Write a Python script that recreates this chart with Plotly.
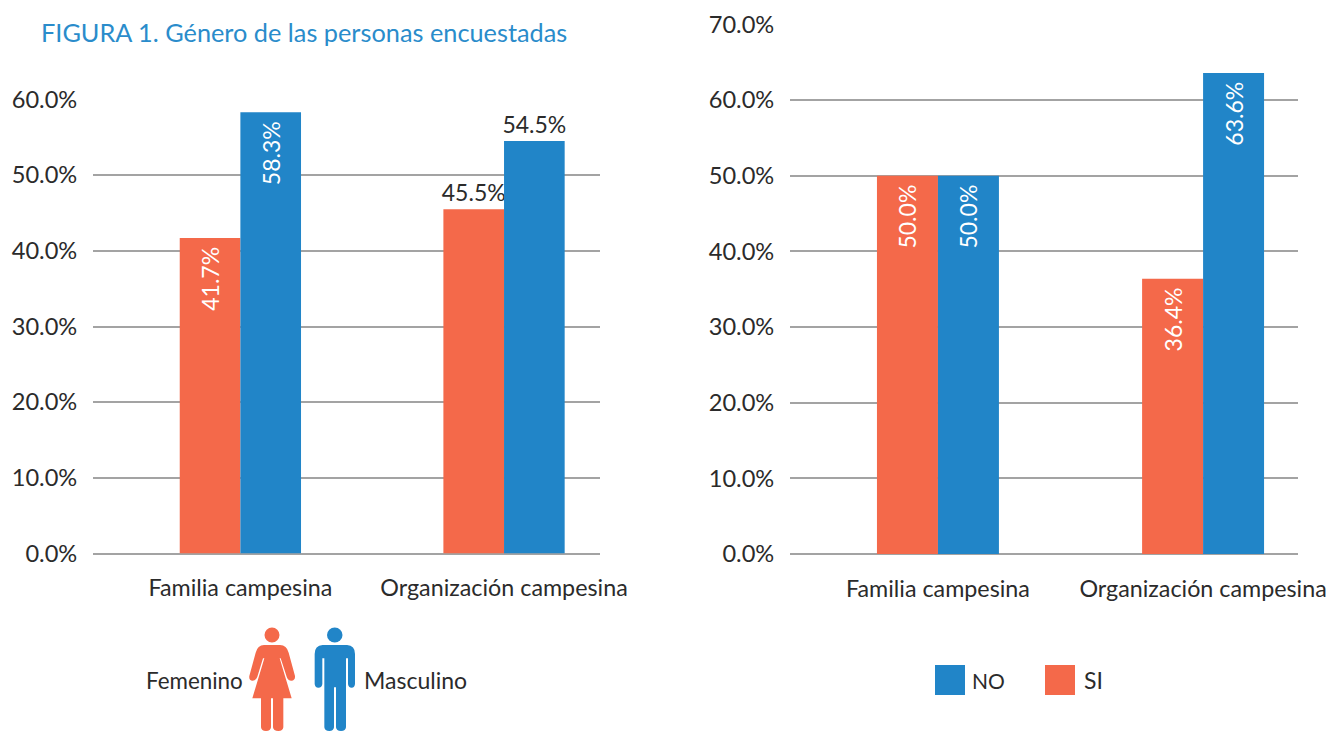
import plotly.graph_objects as go

W, H = 1328, 731
FONT = "Lato"
ORANGE = "#F4694A"
BLUE = "#2185C8"
INK = "#2B2B2B"
GRID = "#A3A3A3"

categories = ["Familia campesina", "Organización campesina"]
title_text = "FIGURA 1. Género de las personas encuestadas"

femenino = [41.7, 45.5]
masculino = [58.3, 54.5]
si = [50.0, 36.4]
no = [50.0, 63.6]

left_ticks = [0, 10, 20, 30, 40, 50, 60]
right_ticks = [0, 10, 20, 30, 40, 50, 60, 70]

left_label_pos = {"fem": ["inside", "outside"], "mas": ["inside", "outside"]}
right_label_pos = {"si": ["inside", "inside"], "no": ["inside", "inside"]}


def px(x):
    return x / W


def py(y):
    return 1 - y / H


def add_series(fig, values, name, color, positions, xaxis, yaxis):
    for cat, val, pos in zip(categories, values, positions):
        inside = pos == "inside"
        fig.add_trace(go.Bar(
            x=[cat], y=[val], name=name, offsetgroup=name, showlegend=False,
            marker=dict(color=color, line=dict(width=0)),
            texttemplate="%{y:.1f}%" + ("\u00a0" if inside else ""), textposition=pos,
            textangle=-90 if inside else 0,
            insidetextanchor="end", constraintext="none", cliponaxis=False,
            insidetextfont=dict(family=FONT, size=23, color="white"),
            outsidetextfont=dict(family=FONT, size=23, color=INK),
            hoverinfo="skip", xaxis=xaxis, yaxis=yaxis,
        ))


fig = go.Figure()
add_series(fig, femenino, "Femenino", ORANGE, left_label_pos["fem"], "x", "y")
add_series(fig, masculino, "Masculino", BLUE, left_label_pos["mas"], "x", "y")
add_series(fig, si, "SI", ORANGE, right_label_pos["si"], "x2", "y2")
add_series(fig, no, "NO", BLUE, right_label_pos["no"], "x2", "y2")


def xaxis(l, r, rng, anchor):
    return dict(domain=[px(l), px(r)], type="category", categoryorder="array", automargin=False,
                categoryarray=categories, range=rng, showgrid=False, zeroline=False, anchor=anchor,
                showline=False, ticks="outside", ticklen=14, tickcolor="rgba(0,0,0,0)",
                tickfont=dict(family=FONT, size=23.3, color=INK))


def yaxis(t, b, top, ticks, anchor):
    return dict(domain=[py(b), py(t)], range=[0, top], tickvals=ticks, automargin=False,
                ticktext=[f"{v:.1f}%" for v in ticks], anchor=anchor,
                showgrid=True, gridcolor=GRID, gridwidth=1.5, zeroline=True,
                zerolinecolor=GRID, zerolinewidth=1.5, showline=False,
                ticks="outside", ticklen=10, tickcolor="rgba(0,0,0,0)",
                tickfont=dict(family=FONT, size=23.6, color=INK))


def zoomed(points):
    """Icon outlines traced on a 3x crop whose origin is (130, 610)."""
    out = []
    for cmd, *xy in points:
        if cmd == "Z":
            out.append("Z")
        else:
            coords = []
            for i in range(0, len(xy), 2):
                coords.append(f"{px(130 + xy[i] / 3):.5f},{py(610 + xy[i + 1] / 3):.5f}")
            out.append(cmd + " ".join(coords))
    return " ".join(out)


woman = [
    ("M", 402, 105), ("L", 450, 105), ("Q", 470, 105, 476, 128), ("L", 495, 198), ("Q", 496, 211, 484, 212),
    ("Q", 474, 212, 470, 200), ("L", 452, 145), ("L", 449, 145), ("L", 485, 265), ("L", 460, 265),
    ("L", 460, 352), ("Q", 459, 363, 445, 363), ("Q", 430, 363, 429, 352), ("L", 429, 265), ("L", 423, 265),
    ("L", 423, 352), ("Q", 422, 363, 408, 363), ("Q", 394, 363, 393, 352), ("L", 393, 265), ("L", 367, 265),
    ("L", 403, 145), ("L", 399, 145), ("L", 382, 200), ("Q", 378, 212, 368, 212), ("Q", 356, 211, 358, 198),
    ("L", 377, 128), ("Q", 383, 105, 402, 105), ("Z",),
]
man = [
    ("M", 578, 105), ("L", 651, 105), ("Q", 675, 106, 675, 132), ("L", 675, 222), ("Q", 674, 233, 665, 233),
    ("Q", 655, 233, 654, 222), ("L", 654, 145), ("L", 648, 145), ("L", 648, 352), ("Q", 647, 363, 633, 363),
    ("Q", 619, 363, 618, 352), ("L", 618, 232), ("L", 612, 232), ("L", 612, 352), ("Q", 611, 363, 598, 363),
    ("Q", 584, 363, 583, 352), ("L", 583, 145), ("L", 577, 145), ("L", 577, 222), ("Q", 576, 233, 565, 233),
    ("Q", 555, 233, 554, 222), ("L", 554, 132), ("Q", 554, 106, 578, 105), ("Z",),
]

shapes = [
    dict(type="path", xref="paper", yref="paper", path=zoomed(woman), fillcolor=ORANGE, line=dict(width=0)),
    dict(type="path", xref="paper", yref="paper", path=zoomed(man), fillcolor=BLUE, line=dict(width=0)),
    dict(type="circle", xref="paper", yref="paper", x0=px(264.5), x1=px(279.5), y0=py(642.5), y1=py(627.5),
         fillcolor=ORANGE, line=dict(width=0)),
    dict(type="circle", xref="paper", yref="paper", x0=px(327), x1=px(342.5), y0=py(642.5), y1=py(627.5),
         fillcolor=BLUE, line=dict(width=0)),
    dict(type="rect", xref="paper", yref="paper", x0=px(935), x1=px(965), y0=py(695), y1=py(665),
         fillcolor=BLUE, line=dict(width=0)),
    dict(type="rect", xref="paper", yref="paper", x0=px(1045), x1=px(1075), y0=py(695), y1=py(665),
         fillcolor=ORANGE, line=dict(width=0)),
]


def label(text, x, y, anchor="left", size=23, color=INK):
    return dict(text=text, xref="paper", yref="paper", x=px(x), y=py(y), xanchor=anchor, yanchor="middle",
                showarrow=False, align="left", font=dict(family=FONT, size=size, color=color))


annotations = [
    label(title_text, 39, 32, size=25.3, color="#2A8CCB"),
    label("Femenino", 245, 680, "right", size=22.4),
    label("Masculino", 362, 680),
    label("NO", 970, 680, size=21),
    label("SI", 1082, 680),
]

fig.update_layout(
    width=W, height=H, margin=dict(l=0, r=0, t=0, b=0, pad=0), autosize=False,
    paper_bgcolor="white", plot_bgcolor="white", showlegend=False,
    barmode="group", bargap=0.54, bargroupgap=0,
    xaxis=xaxis(93, 600, [-0.559, 1.364], "y"),
    yaxis=yaxis(99.5, 553.5, 60, left_ticks, "x"),
    xaxis2=xaxis(790, 1298, [-0.558, 1.358], "y2"),
    yaxis2=yaxis(24.5, 554, 70, right_ticks, "x2"),
    shapes=shapes, annotations=annotations,
)

fig.write_html("out.html", config=dict(displayModeBar=False),
               post_script="document.body.style.margin='0';")
